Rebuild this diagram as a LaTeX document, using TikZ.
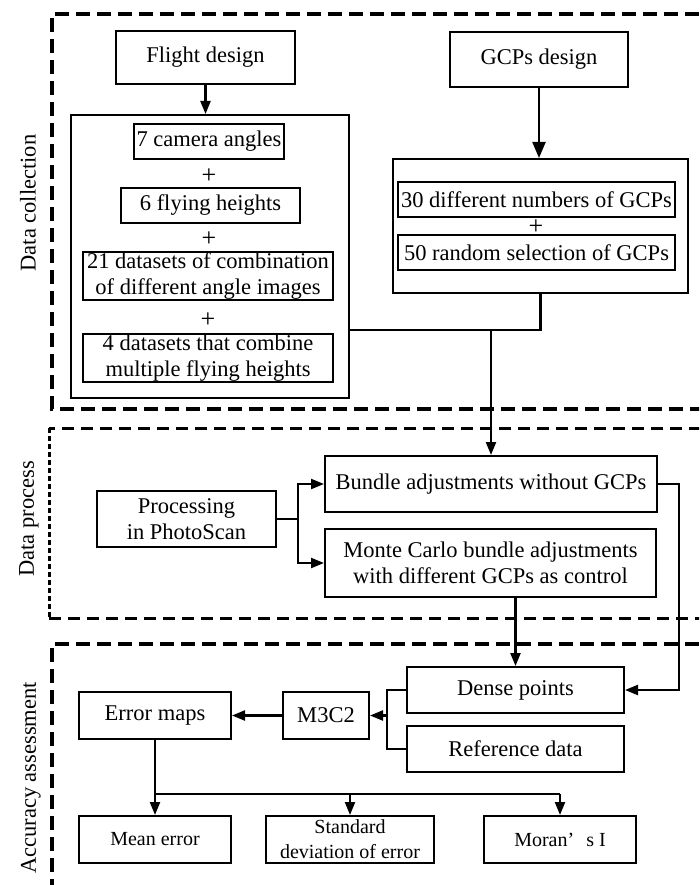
\documentclass[tikz,border=0pt]{standalone}
\usepackage{fontspec}
\setmainfont{Liberation Serif}
\usetikzlibrary{calc,arrows.meta}
\tikzset{
  box/.style={draw,line width=2pt,rectangle,inner sep=0pt,align=center,font=\fontsize{22.5}{26}\selectfont},
  smallbox/.style={box,font=\fontsize{20}{25}\selectfont},
  groupline/.style={line width=3.6pt,dash pattern=on 14pt off 7pt},
  link/.style={line width=2.2pt},
  arr/.style={link,-{Triangle[length=13pt,width=10pt]}},
  bigarr/.style={link,-{Triangle[length=16pt,width=13pt]}},
  side/.style={rotate=90,font=\fontsize{22.5}{26}\selectfont}
}
\begin{document}
\begin{tikzpicture}[x=1pt,y=-1pt]
      \useasboundingbox(0,0)rectangle(699,885);
      \clip(0,0)rectangle(699,885);

      % dashed frames of the three stages
      \draw[groupline](720,14)-|(52,409)--(720,409);
      \draw[groupline,line width=3pt,dash pattern=on 12pt off 7pt](720,428)--(49,428) (49,618)--(720,618);
      \draw[line width=3pt,dash pattern=on 5pt off 3pt](49,428)--(49,618);
      \draw[groupline](720,644)-|(52,900);

      \node[side](lcol)at(28,203){Data collection};
      \node[side](lpro)at(29,519){Data process};
      \node[side](lacc)at(31,778){Accuracy assessment};

      \begin{scope}
        % data collection
        \node[box,minimum width=179pt,minimum height=53pt](flight)at(205.5,57.5){Flight design};
        \node[box,minimum width=178pt,minimum height=55pt](gcpd)at(539,59.5){GCPs design};

        \node[box,minimum width=278pt,minimum height=283pt](fgroup)at(210,256.5){};
        \node[box,minimum width=150pt,minimum height=35pt](cam)at(209,141.5){7 camera angles};
        \node[box,minimum width=179pt,minimum height=35pt](hgt)at(210.5,205.5){6 flying heights};
        \node[box,minimum width=250pt,minimum height=48pt](comb)at(208,276){21 datasets of combination\\of different angle images};
        \node[box,minimum width=250pt,minimum height=48pt](multi)at(208,358){4 datasets that combine\\multiple flying heights};

        \node[box,minimum width=295pt,minimum height=134pt](ggroup)at(540.5,226){};
        \node[box,minimum width=277pt,minimum height=35pt](num)at(536.5,199.5){30 different numbers of GCPs};
        \node[box,minimum width=277pt,minimum height=35pt](rnd)at(536.5,252.5){50 random selection of GCPs};

        \foreach \n/\x/\y in{pa/209/176,pb/209/239,pc/208/320,pd/536/227}{
          \node[font=\fontsize{26}{26}\selectfont,inner sep=0pt](\n)at(\x,\y){+};
        }

        \draw[arr](flight.south)--(flight.south|-fgroup.north);
        \draw[bigarr](gcpd.south)--(gcpd.south|-ggroup.north);
      \end{scope}

      \begin{scope}
        % data process
        \node[box,minimum width=179pt,minimum height=56pt](proc)at(186.5,519){Processing\\in PhotoScan};
        \node[box,minimum width=332pt,minimum height=56pt](bundle)at(491,484){Bundle adjustments without GCPs};
        \node[box,minimum width=331pt,minimum height=68pt](mc)at(490.5,563){Monte Carlo bundle adjustments\\with different GCPs as control};

        \coordinate(j)at(491,330);
        \draw[link](fgroup.east|-j)--(j-|ggroup.south)--(ggroup.south);
        \draw[arr](j)--(bundle.north);

        \coordinate(p)at($(proc.east)+(21,0)$);
        \draw[link](proc.east)--(p);
        \draw[arr](p)|-(bundle.west);
        \draw[arr](p)|-(mc.west);
      \end{scope}

      \begin{scope}
        % accuracy assessment
        \node[box,minimum width=217pt,minimum height=46pt](dense)at(515.5,690){Dense points};
        \node[box,minimum width=217pt,minimum height=46pt](ref)at(515.5,749){Reference data};
        \node[box,minimum width=86pt,minimum height=47pt](m3c2)at(326,715.5){M3C2};
        \node[box,minimum width=152pt,minimum height=47pt](errmap)at(155,715.5){Error maps};

        \node[smallbox,minimum width=152pt,minimum height=47pt](mean)at(155,839.5){Mean error};
        \node[smallbox,minimum width=168pt,minimum height=47pt](std)at(350,839.5){Standard\\deviation of error};
        \node[smallbox,minimum width=152pt,minimum height=47pt](moran)at(560,839.5){Moran’\hspace{.6em}s I};

        \draw[arr](bundle.east)--++(21,0)|-(dense.east);
        \draw[arr](dense.north|-mc.south)--(dense.north);

        \coordinate(mj)at($(m3c2.east)+(17,0)$);
        \draw[link](dense.west)-|(mj)|-(ref.west);
        \draw[arr](mj)--(m3c2.east);
        \draw[arr](m3c2)--(errmap);

        \coordinate(eb)at(155,794);
        \draw[link](errmap.south)--(eb)--(eb-|moran.north);
        \foreach \n in{mean,std,moran}{
          \draw[arr](eb-|\n.north)--(\n.north);
        }
      \end{scope}
    \end{tikzpicture}
\end{document}
